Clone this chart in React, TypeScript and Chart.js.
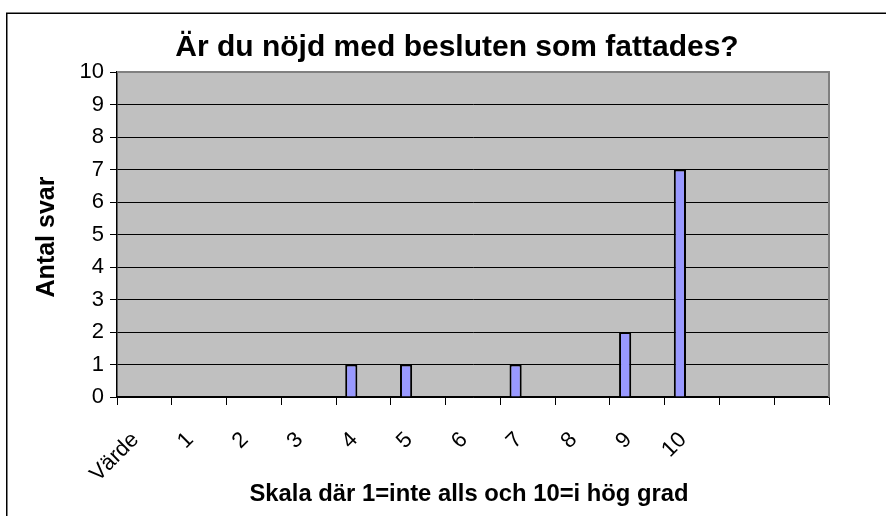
import React, { useEffect, useRef } from "react";
import { Chart, registerables } from "chart.js";

Chart.register(...registerables);

const chartTitle = "Är du nöjd med besluten som fattades?";
const xTitle = "Skala där 1=inte alls och 10=i hög grad";
const yTitle = "Antal svar";
const categories = ["Värde", "1", "2", "3", "4", "5", "6", "7", "8", "9", "10", "", ""];
const answers = [null, null, null, null, 1, 1, null, 1, null, 2, 7, null, null];
const series2 = [null, null, null, null, null, null, null, null, null, null, null, null, null];
const series3 = [null, null, null, null, null, null, null, null, null, null, null, null, null];
const yTicks = [0, 1, 2, 3, 4, 5, 6, 7, 8, 9, 10];

const FONT = "'Liberation Sans', Arial, sans-serif";

const decor = {
  id: "decor",
  beforeDraw(chart: any) {
    const { ctx, chartArea: a } = chart;
    ctx.save();
    ctx.fillStyle = "#ffffff";
    ctx.fillRect(0, 0, chart.width, chart.height);
    ctx.strokeStyle = "#000000";
    ctx.lineWidth = 1.5;
    ctx.strokeRect(6.75, 13.25, 2000, 2000);
    ctx.fillStyle = "#C0C0C0";
    ctx.fillRect(a.left, a.top, a.right - a.left, a.bottom - a.top);
    ctx.restore();
  },
  afterDraw(chart: any) {
    const { ctx, chartArea: a } = chart;
    ctx.save();
    ctx.strokeStyle = "#808080";
    ctx.lineWidth = 2;
    ctx.beginPath();
    ctx.moveTo(a.left, a.top);
    ctx.lineTo(a.right, a.top);
    ctx.lineTo(a.right, a.bottom);
    ctx.stroke();
    ctx.fillStyle = "#000000";
    ctx.textAlign = "center";
    ctx.textBaseline = "middle";
    ctx.font = `bold 30px ${FONT}`;
    ctx.fillText(chartTitle, 457, 48);
    ctx.font = `bold 23.8px ${FONT}`;
    ctx.fillText(xTitle, 469, 494);
    ctx.translate(47, 237);
    ctx.rotate(-Math.PI / 2);
    ctx.font = `bold 25px ${FONT}`;
    ctx.fillText(yTitle, 0, 0);
    ctx.restore();
  },
};

export default function App() {
  const ref = useRef<HTMLCanvasElement>(null);
  useEffect(() => {
    const chart = new Chart(ref.current!, {
      type: "bar",
      data: {
        labels: categories,
        datasets: [
          { data: answers as any, backgroundColor: "#9999FF", borderColor: "#000000", borderWidth: 2 },
          { data: series2 as any, backgroundColor: "#993366", borderColor: "#000000", borderWidth: 2 },
          { data: series3 as any, backgroundColor: "#FFFFCC", borderColor: "#000000", borderWidth: 2 },
        ],
      },
      options: {
        responsive: false,
        animation: false,
        events: [],
        layout: { padding: { left: 0, top: 72, right: 57, bottom: 0 } },
        datasets: { bar: { barPercentage: 1, categoryPercentage: 2 / 3 } },
        plugins: { legend: { display: false }, tooltip: { enabled: false }, title: { display: false } },
        scales: {
          x: {
            grid: { display: true, drawOnChartArea: false, drawTicks: true, tickLength: 8, color: "#000000", offset: true },
            border: { color: "#000000", width: 1.5 },
            ticks: { color: "#000000", font: { family: FONT, size: 22 }, minRotation: 45, maxRotation: 45, autoSkip: false, padding: 22, labelOffset: -9 },
            afterFit(s: any) { s.height = 516 - 397; },
          },
          y: {
            min: 0,
            max: 10,
            afterBuildTicks(s: any) { s.ticks = yTicks.map((v) => ({ value: v })); },
            grid: { color: "#000000", lineWidth: 1, tickLength: 7, tickColor: "#000000" },
            border: { color: "#000000", width: 1.5 },
            ticks: { color: "#000000", font: { family: FONT, size: 22 }, padding: 6 },
            afterFit(s: any) { s.width = 117; },
          },
        },
      },
      plugins: [decor],
    });
    return () => chart.destroy();
  }, []);
  return (
    <div style={{ position: "absolute", left: 0, top: 0, width: 886, height: 516 }}>
      <canvas ref={ref} width={886} height={516} style={{ display: "block" }} />
    </div>
  );
}
